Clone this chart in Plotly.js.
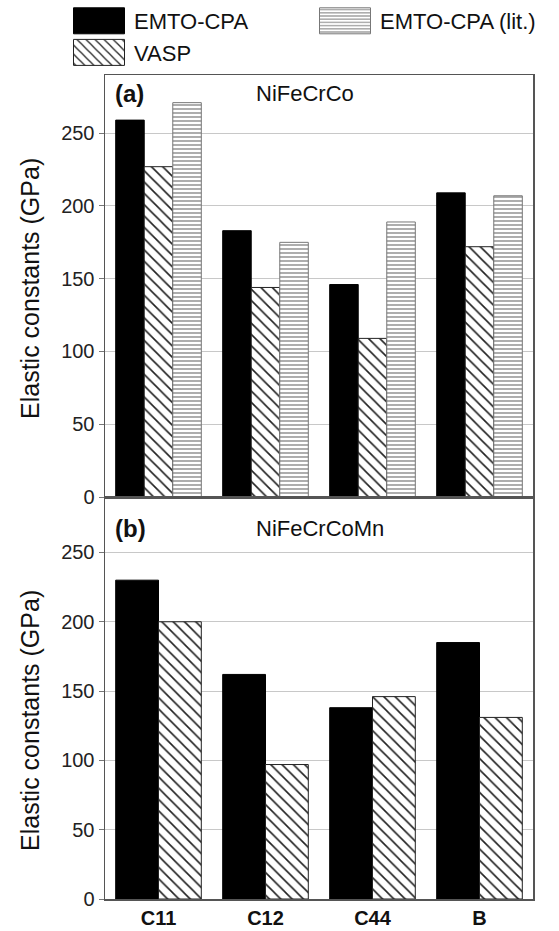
<!DOCTYPE html>
<html><head><meta charset="utf-8">
<script src="https://cdn.plot.ly/plotly-3.0.1.min.js"></script>
<style>body{margin:0;background:#fff}#chart{width:559px;height:931px}</style>
</head><body><div id="chart"></div>
<script>
const categories = ["C11", "C12", "C44", "B"];
const tickVals = [0, 50, 100, 150, 200, 250];
// (a) NiFeCrCo
const aEmto = [259, 183, 146, 209];
const aVasp = [227, 144, 109, 172];
const aLit  = [271, 175, 189, 207];
// (b) NiFeCrCoMn
const bEmto = [230, 162, 138, 185];
const bVasp = [200, 97, 146, 131];

const FONT = "Arial, 'Liberation Sans', sans-serif";
const emtoMarker = {color: '#000', line: {color: '#000', width: 1}};
const vaspMarker = {color: '#fff', line: {color: '#222', width: 1},
  pattern: {shape: '\\', fgcolor: '#222', bgcolor: '#fff', size: 8, solidity: 0.2}};
const litMarker = {color: '#fff', line: {color: '#777', width: 1},
  pattern: {shape: '-', fgcolor: '#777', bgcolor: '#fff', size: 4, solidity: 0.3}};

const traces = [
  {type: 'bar', name: 'EMTO-CPA', x: categories, y: aEmto, xaxis: 'x', yaxis: 'y', marker: emtoMarker, legend: 'legend'},
  {type: 'bar', name: 'VASP', x: categories, y: aVasp, xaxis: 'x', yaxis: 'y', marker: vaspMarker, legend: 'legend'},
  {type: 'bar', name: 'EMTO-CPA (lit.)', x: categories, y: aLit, xaxis: 'x', yaxis: 'y', marker: litMarker, legend: 'legend2'},
  {type: 'bar', name: 'EMTO-CPA', x: categories, y: bEmto, xaxis: 'x2', yaxis: 'y2', marker: emtoMarker, showlegend: false},
  {type: 'bar', name: 'VASP', x: categories, y: bVasp, xaxis: 'x2', yaxis: 'y2', marker: vaspMarker, showlegend: false}
];

const split = 402 / 824;
const yCommon = {range: [0, 290], tickvals: tickVals, ticks: 'outside', ticklen: 5, tickcolor: '#777',
  showgrid: true, gridcolor: '#c8c8c8', gridwidth: 1, showline: true, linecolor: '#555', linewidth: 1.5,
  mirror: true, zeroline: false, tickfont: {family: FONT, size: 20, color: '#222'}, fixedrange: true, automargin: false};
const xCommon = {showline: true, linecolor: '#555', linewidth: 1.5, mirror: true, ticks: '',
  showgrid: false, zeroline: false, range: [-0.5, 3.5], automargin: false};

const annFont = (size, bold) => ({family: FONT, size: size, color: '#111', weight: bold ? 'bold' : 'normal'});
const layout = {
  width: 559, height: 931,
  margin: {l: 105, r: 26, t: 75, b: 32, autoexpand: false},
  paper_bgcolor: '#fff', plot_bgcolor: '#fff',
  barmode: 'group', bargap: 0.2, bargroupgap: 0,
  font: {family: FONT, color: '#111'},
  xaxis: Object.assign({}, xCommon, {anchor: 'y', showticklabels: false}),
  yaxis: Object.assign({}, yCommon, {domain: [split, 1], anchor: 'x'}),
  xaxis2: Object.assign({}, xCommon, {anchor: 'y2', showticklabels: true,
    tickfont: {family: FONT, size: 20, color: '#111', weight: 'bold'}}),
  yaxis2: Object.assign({}, yCommon, {domain: [0, split], anchor: 'x2'}),
  legend: {xref: 'container', yref: 'container', x: 64 / 559, y: 1, xanchor: 'left', yanchor: 'top',
    orientation: 'v', itemwidth: 60, font: {family: FONT, size: 22, color: '#111'}, bgcolor: 'rgba(0,0,0,0)', itemclick: false},
  legend2: {xref: 'container', yref: 'container', x: 310 / 559, y: 1, xanchor: 'left', yanchor: 'top',
    orientation: 'v', itemwidth: 60, font: {family: FONT, size: 22, color: '#111'}, bgcolor: 'rgba(0,0,0,0)', itemclick: false},
  annotations: [
    {xref: 'paper', yref: 'paper', x: 0.019, y: (899 - 93) / 824, xanchor: 'left', yanchor: 'middle', showarrow: false,
      text: '(a)', font: annFont(24, true)},
    {xref: 'paper', yref: 'paper', x: (254 - 105) / 428, y: (899 - 93) / 824, xanchor: 'left', yanchor: 'middle', showarrow: false,
      text: 'NiFeCrCo', font: annFont(22, false)},
    {xref: 'paper', yref: 'paper', x: 0.019, y: (899 - 528) / 824, xanchor: 'left', yanchor: 'middle', showarrow: false,
      text: '(b)', font: annFont(24, true)},
    {xref: 'paper', yref: 'paper', x: (254 - 105) / 428, y: (899 - 528) / 824, xanchor: 'left', yanchor: 'middle', showarrow: false,
      text: 'NiFeCrCoMn', font: annFont(22, false)},
    {xref: 'paper', yref: 'paper', x: (30 - 105) / 428, y: (899 - 289) / 824, xanchor: 'center', yanchor: 'middle', showarrow: false,
      textangle: -90, text: 'Elastic constants (GPa)', font: annFont(25, false)},
    {xref: 'paper', yref: 'paper', x: (30 - 105) / 428, y: (899 - 721) / 824, xanchor: 'center', yanchor: 'middle', showarrow: false,
      textangle: -90, text: 'Elastic constants (GPa)', font: annFont(25, false)}
  ]
};

Plotly.newPlot('chart', traces, layout, {displayModeBar: false, staticPlot: true}).then(function (gd) {
  gd.querySelectorAll('g.legendpoints path').forEach(function (p) {
    const d = p.getAttribute('d') || '';
    if (d.indexOf('M6,6H-6V-6H6Z') === 0) p.setAttribute('d', 'M25.5,13H-25.5V-13H25.5Z');
  });
});
</script></body></html>
